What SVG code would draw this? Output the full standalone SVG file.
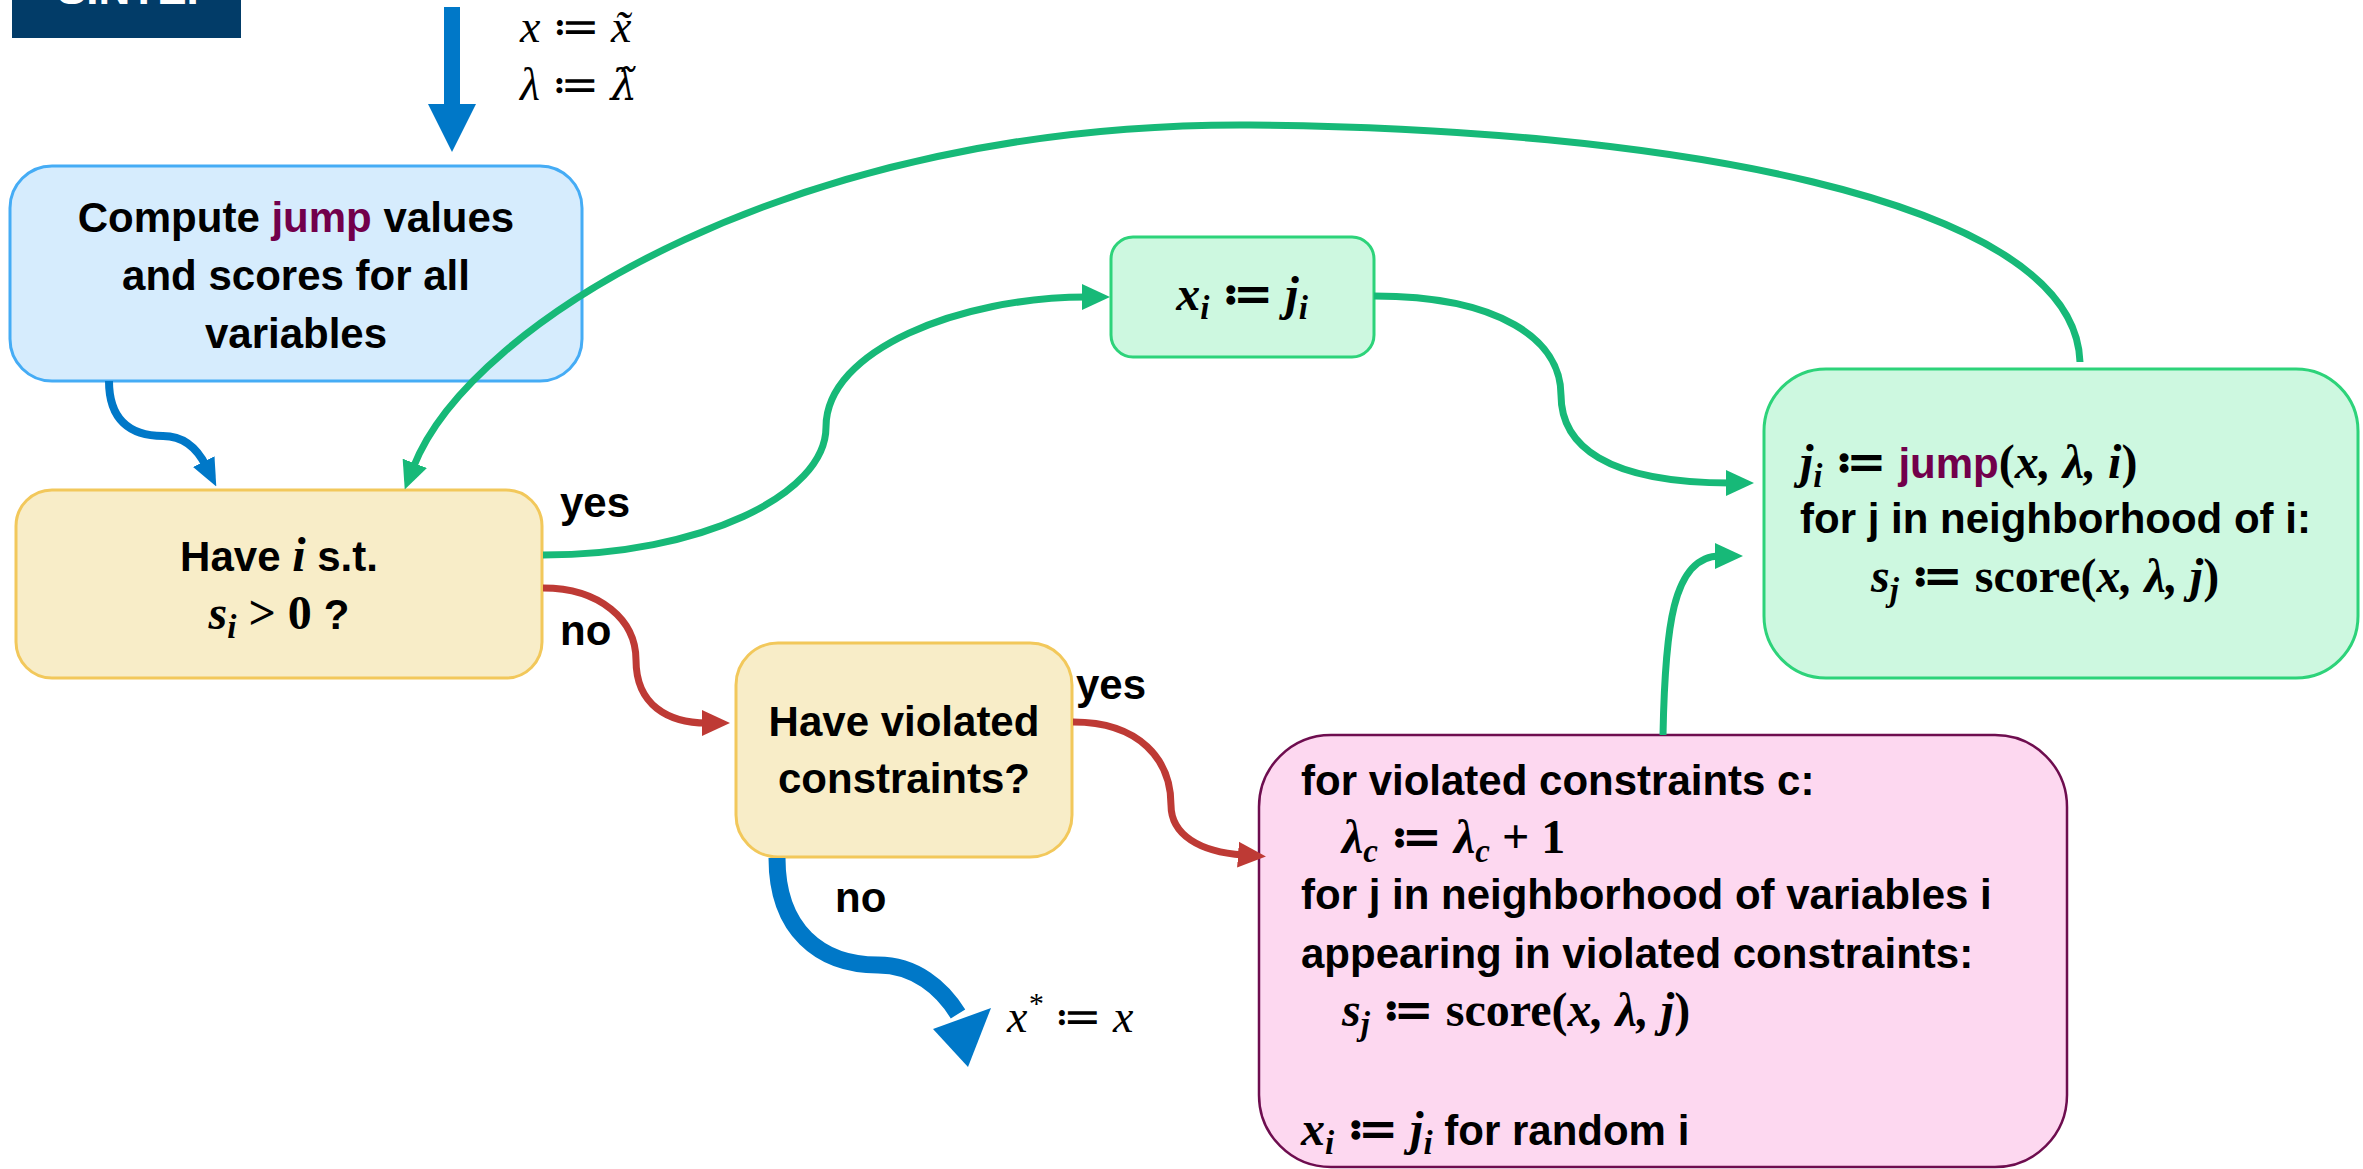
<svg xmlns="http://www.w3.org/2000/svg" width="2363" height="1169" viewBox="0 0 2363 1169">
<style>
.sans{font-family:"Liberation Sans",Arial,sans-serif;font-weight:bold;font-size:42px;fill:#000}
.m{font-family:"Liberation Serif","DejaVu Serif","DejaVu Sans",serif;font-style:italic;font-weight:bold;font-size:48px;fill:#000}
.up{font-style:normal}
.mt{font-family:"Liberation Serif","DejaVu Serif","DejaVu Sans",serif;font-style:italic;font-size:46px;fill:#000}
.sub{font-size:33px}
.purple{fill:#72004B}
.gl{fill:none;stroke:#17B978;stroke-width:7}
.rl{fill:none;stroke:#BE3A35;stroke-width:7}
.bl{fill:none;stroke:#0078C8;stroke-width:8}
</style>
<defs>
<marker id="ahG" markerUnits="userSpaceOnUse" markerWidth="28" markerHeight="28" viewBox="0 0 28 28" refX="5" refY="14" orient="auto"><path d="M0,1 L28,14 L0,27 z" fill="#17B978"/></marker>
<marker id="ahR" markerUnits="userSpaceOnUse" markerWidth="28" markerHeight="28" viewBox="0 0 28 28" refX="5" refY="14" orient="auto"><path d="M0,1 L28,14 L0,27 z" fill="#BE3A35"/></marker>
<marker id="ahB" markerUnits="userSpaceOnUse" markerWidth="28" markerHeight="26" viewBox="0 0 28 26" refX="5" refY="13" orient="auto"><path d="M0,1 L28,13 L0,25 z" fill="#0078C8"/></marker>
</defs>

<g id="logo">
<rect x="12" y="-10" width="229" height="48" fill="#023C68"/>
<text x="57" y="4" style="font-family:'Liberation Sans',Arial,sans-serif;font-weight:bold;font-size:44px;fill:#fff">SINTEF</text>
</g>

<g id="node-compute">
<rect x="10" y="166" width="572" height="215" rx="42" fill="#D6ECFD" stroke="#45ACF5" stroke-width="3"/>
<text class="sans" x="296" y="232" text-anchor="middle">Compute <tspan class="purple">jump</tspan> values</text>
<text class="sans" x="296" y="290" text-anchor="middle">and scores for all</text>
<text class="sans" x="296" y="348" text-anchor="middle">variables</text>
</g>

<g id="node-have-i">
<rect x="16" y="490" width="526" height="188" rx="36" fill="#F8EDC8" stroke="#F2C85B" stroke-width="3"/>
<text class="sans" x="279" y="571" text-anchor="middle">Have <tspan class="m" font-size="46">i</tspan> s.t.</text>
<text x="279" y="629" text-anchor="middle"><tspan class="m" font-size="52">s</tspan><tspan class="m sub" dy="9">i</tspan><tspan class="m up" font-size="52" dy="-9"> &gt; 0 </tspan><tspan class="sans">?</tspan></text>
</g>

<g id="node-violated">
<rect x="736" y="643" width="336" height="214" rx="42" fill="#F8EDC8" stroke="#F2C85B" stroke-width="3"/>
<text class="sans" x="904" y="736" text-anchor="middle">Have violated</text>
<text class="sans" x="904" y="793" text-anchor="middle">constraints?</text>
</g>

<g id="node-assign">
<rect x="1111" y="237" width="263" height="120" rx="22" fill="#CDF8E0" stroke="#2DD37A" stroke-width="3"/>
<text x="1242" y="310" text-anchor="middle"><tspan class="m" font-size="52">x</tspan><tspan class="m sub" dy="9">i</tspan><tspan class="m up" font-size="52" dy="-9"> ≔ </tspan><tspan class="m" font-size="52">j</tspan><tspan class="m sub" dy="9">i</tspan></text>
</g>

<g id="node-update">
<rect x="1764" y="369" width="594" height="309" rx="62" fill="#CDF8E0" stroke="#2DD37A" stroke-width="3"/>
<text x="1800" y="478"><tspan class="m">j</tspan><tspan class="m sub" dy="9">i</tspan><tspan class="m up" dy="-9"> ≔ </tspan><tspan class="sans purple" font-size="44">jump</tspan><tspan class="m up">(</tspan><tspan class="m">x, λ, i</tspan><tspan class="m up">)</tspan></text>
<text class="sans" x="1800" y="533">for j in neighborhood of i:</text>
<text x="1871" y="592"><tspan class="m">s</tspan><tspan class="m sub" dy="9">j</tspan><tspan class="m up" dy="-9"> ≔ score(</tspan><tspan class="m">x, λ, j</tspan><tspan class="m up">)</tspan></text>
</g>

<g id="node-penalty">
<rect x="1259" y="735" width="808" height="432" rx="72" fill="#FDD8F0" stroke="#6E0D4F" stroke-width="2.5"/>
<text class="sans" x="1301" y="795">for violated constraints c:</text>
<text x="1342" y="853"><tspan class="m">λ</tspan><tspan class="m sub" dy="9">c</tspan><tspan class="m up" dy="-9"> ≔ </tspan><tspan class="m">λ</tspan><tspan class="m sub" dy="9">c</tspan><tspan class="m up" dy="-9"> + 1</tspan></text>
<text class="sans" x="1301" y="909">for j in neighborhood of variables i</text>
<text class="sans" x="1301" y="968">appearing in violated constraints:</text>
<text x="1342" y="1026"><tspan class="m">s</tspan><tspan class="m sub" dy="9">j</tspan><tspan class="m up" dy="-9"> ≔ score(</tspan><tspan class="m">x, λ, j</tspan><tspan class="m up">)</tspan></text>
<text x="1301" y="1145"><tspan class="m">x</tspan><tspan class="m sub" dy="9">i</tspan><tspan class="m up" dy="-9"> ≔ </tspan><tspan class="m">j</tspan><tspan class="m sub" dy="9">i</tspan><tspan class="sans" dy="-9"> for random i</tspan></text>
</g>

<g id="connectors">
<path d="M444,7 L460,7 L460,104 L476,104 L452,152 L428,104 L444,104 z" fill="#0078C8"/>
<path class="bl" d="M109,381 C109,420 130,436 163,436 C185,436 198,450 206,466" marker-end="url(#ahB)"/>
<path class="gl" d="M2080,362 C2075,195 1650,128 1250,125 C800,122 470,320 413,468" marker-end="url(#ahG)"/>
<path class="gl" d="M543,555 C700,555 826,495 826,427 C826,350 960,297 1087,297" marker-end="url(#ahG)"/>
<path class="gl" d="M1374,296 C1500,296 1561,340 1561,395 C1561,445 1605,483 1731,483" marker-end="url(#ahG)"/>
<path class="gl" d="M1663,735 C1665,630 1672,556 1720,556" marker-end="url(#ahG)"/>
<path class="rl" d="M543,588 C600,588 636,620 636,660 C636,705 668,723 707,723" marker-end="url(#ahR)"/>
<path class="rl" d="M1073,722 C1140,722 1171,760 1171,805 C1171,835 1200,852 1243,855" marker-end="url(#ahR)"/>
<path d="M777,858 C777,930 820,965 878,965 C915,965 942,988 958,1014" fill="none" stroke="#0078C8" stroke-width="17"/>
<path d="M933,1029 L991,1008 L968,1067 z" fill="#0078C8"/>
<text class="mt" x="520" y="42">x ≔ x̃</text>
<text class="mt" x="520" y="100">λ ≔ <tspan style="font-family:'DejaVu Serif',serif" font-size="42">λ̃</tspan></text>
<text class="mt" x="1007" y="1032">x<tspan font-size="30" dy="-19">*</tspan><tspan dy="19"> ≔ x</tspan></text>
<text class="sans" x="560" y="517">yes</text>
<text class="sans" x="560" y="645">no</text>
<text class="sans" x="1076" y="699">yes</text>
<text class="sans" x="835" y="912">no</text>
</g>
</svg>
